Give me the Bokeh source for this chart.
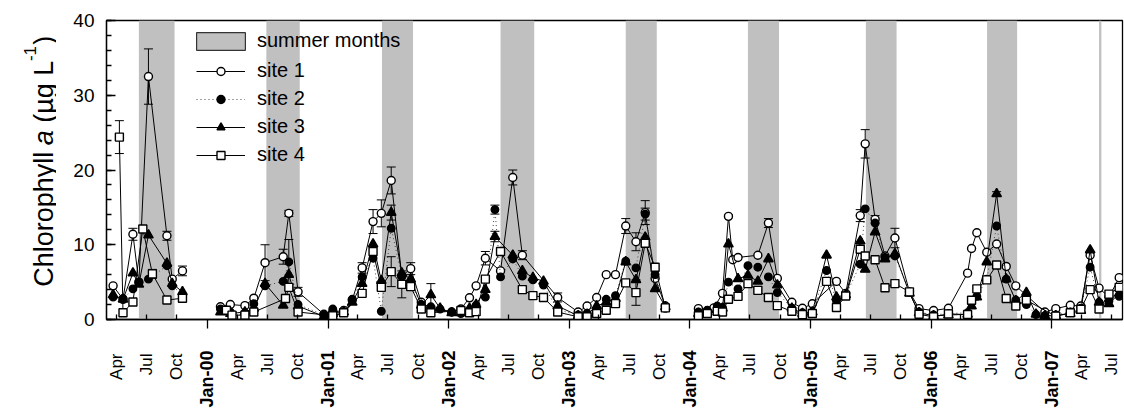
import math
from datetime import datetime
from bokeh.plotting import figure
from bokeh.layouts import row
from bokeh.models import (ColumnDataSource, Range1d, LinearAxis, FixedTicker,
                          Legend, LegendItem, Whisker, TeeHead, Label)
from bokeh.embed import file_html
from bokeh.resources import INLINE

FONT = "Liberation Sans"

# ---------------- data ----------------
dates = ["1999-03-22", "1999-04-10", "1999-04-21", "1999-05-21", "1999-06-08", "1999-06-20",
         "1999-07-07", "1999-07-19", "1999-09-01", "1999-09-17", "1999-10-18",
         "2000-02-10", "2000-02-28", "2000-03-11", "2000-03-16", "2000-04-24", "2000-05-21",
         "2000-06-24", "2000-08-18", "2000-08-25", "2000-09-04", "2000-10-02", "2000-12-19",
         "2001-01-15", "2001-02-17", "2001-03-15", "2001-04-14", "2001-05-17", "2001-06-11",
         "2001-07-11", "2001-08-12", "2001-09-08", "2001-10-10", "2001-11-08", "2001-12-06",
         "2002-01-10", "2002-02-07", "2002-03-05", "2002-03-25", "2002-04-22", "2002-05-21",
         "2002-06-07", "2002-07-14", "2002-08-12", "2002-09-13", "2002-10-15", "2002-11-27",
         "2003-01-28", "2003-02-24", "2003-03-25", "2003-04-23", "2003-05-21", "2003-06-21",
         "2003-07-22", "2003-08-19", "2003-09-18", "2003-10-19",
         "2004-01-27", "2004-02-23", "2004-03-14", "2004-03-24", "2004-04-09", "2004-04-27",
         "2004-05-10", "2004-05-26", "2004-06-25", "2004-07-25", "2004-08-26", "2004-09-22",
         "2004-11-05", "2004-12-07",
         "2005-01-06", "2005-02-18", "2005-03-20", "2005-04-17", "2005-05-31", "2005-06-15",
         "2005-07-15", "2005-08-14", "2005-09-13", "2005-10-27", "2005-11-25",
         "2006-01-08", "2006-02-22", "2006-04-21", "2006-05-03", "2006-05-19", "2006-06-18",
         "2006-07-18", "2006-08-16", "2006-09-14", "2006-10-16", "2006-11-14", "2006-12-11",
         "2007-01-13", "2007-02-26", "2007-03-30", "2007-04-27", "2007-05-24", "2007-06-23",
         "2007-07-24"]

site1 = [4.5, None, 2.7, 11.4, 5.0, None, 32.5, None, 11.2, 5.4, 6.5,
         1.7, None, 2.0, None, 1.85, 2.85, 7.6, 8.4, None, 14.2, 3.7, 0.7,
         1.0, 1.2, 2.6, 6.9, 13.1, 14.2, 18.6, 5.8, 6.8, 2.3, 1.5, None,
         1.0, 1.4, 2.9, 4.5, 8.2, None, 6.5, 19.0, 8.6, None, None, 2.95,
         1.0, 1.8, 2.95, 6.0, 6.0, 12.5, 10.4, 14.3, 5.5, 1.8,
         1.45, 1.2, 1.55, None, 3.5, 13.8, 8.0, 8.3, None, 8.6, 12.9, 5.5, 2.3, 1.5,
         2.1, None, 5.1, 3.5, 13.9, 23.5, 13.4, 8.5, 10.9, 3.7, 1.45,
         1.2, 1.5, 6.2, 9.5, 11.6, 9.0, 10.1, 7.1, 4.5, None, None, 1.0,
         1.45, 1.9, 1.8, 8.6, 4.2, 3.0, 5.6]

site2 = [3.0, None, 2.8, 4.1, 5.0, None, 5.4, None, 7.2, 4.5, 3.3,
         1.4, None, 1.0, None, 0.9, 2.1, 4.5, 5.1, None, 7.7, 2.0, 0.6,
         1.4, 1.0, 2.7, 5.7, 8.2, 1.1, 12.2, 5.8, 4.8, 2.0, 1.7, 1.4,
         1.0, 0.8, 1.2, 1.9, 3.0, 14.7, 5.7, 8.1, 5.8, 5.3, 4.6, 1.3,
         0.6, 0.8, 1.4, 2.7, 3.2, 7.8, 6.9, 14.1, 6.0, 1.5,
         1.0, 1.2, None, 1.8, 1.6, 5.0, None, 4.1, 7.2, 7.0, 5.7, 3.6, 1.5, 0.9,
         1.0, 6.55, 2.5, 3.2, 7.4, 14.8, 12.9, 8.3, 8.5, 3.7, 1.0,
         0.6, 0.8, 0.9, 2.3, 3.1, 5.4, 12.5, 5.4, 2.6, 2.0, 0.66, 0.5,
         0.6, 1.0, 1.5, 7.0, 2.3, 2.5, 3.1]

site3 = [3.3, None, 2.7, 6.2, 4.7, None, 11.3, None, 7.5, 4.8, 3.7,
         1.0, None, 0.8, None, 1.0, 1.5, 4.8, 1.9, None, 6.0, 1.8, 0.4,
         0.8, 1.0, 2.3, 4.8, 10.1, 5.2, 14.3, 6.2, 5.4, 1.9, 3.3, 1.5,
         0.9, 0.9, 1.5, 2.0, 4.0, 11.1, None, 8.6, 6.5, 5.6, 5.1, 1.8,
         0.5, 0.7, 1.8, 2.3, 2.8, 7.7, 5.3, 11.0, 4.1, 1.7,
         0.8, 1.0, None, 1.3, 1.5, 10.1, None, 5.45, 5.9, 5.1, 8.1, 4.6, 1.5, 0.8,
         1.0, 8.6, 3.0, 3.3, 10.5, 6.7, 11.7, 8.1, 8.8, 3.5, 0.9,
         0.5, 0.6, 0.7, 1.8, 3.0, 7.7, 16.8, 5.4, 2.5, 3.6, 0.7, 0.5,
         0.5, 0.8, 1.2, 9.3, 2.3, 2.1, 3.5]

site4 = [None, 24.4, 0.9, 2.35, None, 12.1, None, 6.1, 2.6, None, 2.85,
         None, 1.24, None, 0.58, 0.58, 1.0, None, None, 2.8, 4.3, 1.0, None,
         0.5, 0.9, None, 3.5, 9.1, 4.3, 6.4, 4.7, 4.4, 1.4, 0.9, None,
         None, 1.2, 0.9, 1.05, 5.4, None, 9.1, None, 4.0, 3.2, 2.95, 1.0,
         0.35, 0.35, 0.8, 1.24, 2.13, 4.9, 3.6, 10.2, 7.0, 1.55,
         0.5, 0.8, None, 1.1, 1.0, 2.7, None, 3.1, 4.8, 3.9, 2.95, 1.85, 1.1, 0.65,
         0.8, 5.1, 1.6, 3.15, 9.4, 8.5, 8.0, 4.25, 4.8, 3.7, 0.7,
         0.35, 0.75, 0.66, 2.57, 4.1, 5.3, 7.3, 2.8, 1.8, 2.57, None, None,
         0.45, 0.9, 1.37, 4.0, 1.4, 3.4, 4.3]

# sampling breaks (no line drawn across them)
gap_dates = ["1999-12-15", "2003-12-01"]

# error bars (date, +/- half width)
err1_dates = ["1999-05-21", "1999-07-07", "1999-09-01", "1999-10-18", "2000-06-24", "2000-08-18",
              "2000-09-04", "2000-10-02", "2001-04-14", "2001-05-17", "2001-06-11", "2001-07-11",
              "2001-09-08", "2002-04-22", "2002-07-14", "2002-08-12", "2002-11-27", "2003-06-21",
              "2003-07-22", "2003-08-19", "2004-04-27", "2004-08-26", "2005-05-31", "2005-06-15",
              "2005-07-15", "2005-09-13"]
err1_sd = [0.8, 3.7, 0.6, 0.65, 2.4, 1.0, 0.4, 0.6, 0.7, 1.6, 1.8, 1.8,
           0.8, 0.9, 1.0, 0.6, 0.6, 1.0, 1.2, 1.6, 0.2, 0.6, 0.8, 1.9, 0.5, 1.3]
err2_dates = ["2000-09-04", "2002-05-21", "2003-08-19"]
err2_sd = [3.0, 0.6, 0.8]
err3_dates = ["2001-07-11", "2001-11-08", "2002-05-21", "2006-07-18"]
err3_sd = [1.0, 1.5, 0.7, 0.3]
err4_dates = ["1999-04-10", "1999-07-19", "2001-07-11", "2001-08-12", "2003-07-22"]
err4_sd = [2.2, 0.6, 2.0, 1.8, 1.7]

# summer months shading
summer_start = ["1999-06-08", "2000-06-28", "2001-06-13", "2002-06-07", "2003-06-21",
                "2004-06-25", "2005-06-17", "2006-06-19", "2007-05-24"]
summer_end = ["1999-09-24", "2000-10-07", "2001-09-15", "2002-09-17", "2003-09-23",
              "2004-09-27", "2005-09-18", "2006-09-18", "2007-05-31"]

years = [2000, 2001, 2002, 2003, 2004, 2005, 2006, 2007]
jan_labels = ["Jan-00", "Jan-01", "Jan-02", "Jan-03", "Jan-04", "Jan-05", "Jan-06", "Jan-07"]
quarter_months = [4, 7, 10]
quarter_labels = ["Apr", "Jul", "Oct"]
x_start, x_end = "1999-03-02", "2007-08-03"
y_start, y_end = 0, 40
y_label = ["Chlorophyll", "a", "(\u00b5g L", "-1", ")"]

# ---------------- layout constants (pixels) ----------------
W, H = 1124, 410
TITLE_W = 56
FRAME_L, FRAME_T, FRAME_R, FRAME_B = 106, 20, 1122, 321
FRAME_H = FRAME_B - FRAME_T


def ms(s):
    return (datetime.strptime(s, "%Y-%m-%d") - datetime(1970, 1, 1)).total_seconds() * 1000.0


def series(vals):
    pts = [(ms(d), v) for d, v in zip(dates, vals) if v is not None]
    pts += [(ms(g), float("nan")) for g in gap_dates]
    pts.sort()
    return [p[0] for p in pts], [p[1] for p in pts]


X0, X1 = ms(x_start), ms(x_end)

p = figure(width=W - TITLE_W, height=H, output_backend="svg", toolbar_location=None,
           x_axis_type=None, x_range=Range1d(X0, X1),
           y_range=Range1d(y_start, y_end),
           min_border_left=FRAME_L - TITLE_W, min_border_right=W - FRAME_R,
           min_border_top=FRAME_T, min_border_bottom=H - FRAME_B)
p.outline_line_color = "black"
p.outline_line_width = 1.3
p.grid.visible = False

# summer bands
p.quad(left=[ms(d) for d in summer_start], right=[ms(d) for d in summer_end],
       bottom=y_start, top=y_end, fill_color="#c0c0c0", line_color=None, level="underlay")

# error bars
for ed, sd, vals in [(err1_dates, err1_sd, site1), (err2_dates, err2_sd, site2),
                     (err3_dates, err3_sd, site3), (err4_dates, err4_sd, site4)]:
    lookup = {d: v for d, v in zip(dates, vals)}
    src = ColumnDataSource(dict(x=[ms(d) for d in ed],
                                lo=[lookup[d] - s for d, s in zip(ed, sd)],
                                hi=[lookup[d] + s for d, s in zip(ed, sd)]))
    w = Whisker(source=src, base="x", lower="lo", upper="hi", dimension="height",
                line_color="black", line_width=1, level="underlay",
                upper_head=TeeHead(size=9, line_color="black", line_width=1),
                lower_head=TeeHead(size=9, line_color="black", line_width=1))
    p.add_layout(w)

items = []
styles = [
    ("site 1", site1, dict(line_dash="solid", line_color="black"), dict(marker="circle", size=8, fill_color="white")),
    ("site 2", site2, dict(line_dash="1 3", line_color="#444444"), dict(marker="circle", size=7.5, fill_color="black")),
    ("site 3", site3, dict(line_dash="solid", line_color="black"), dict(marker="triangle", size=9.5, fill_color="black")),
    ("site 4", site4, dict(line_dash="solid", line_color="black"), dict(marker="square", size=8, fill_color="white")),
]
for name, vals, lkw, mkw in styles:
    xs, ys = series(vals)
    src = ColumnDataSource(dict(x=xs, y=ys))
    lr = p.line("x", "y", source=src, line_width=1, **lkw)
    sr = p.scatter("x", "y", source=src, line_color="black", line_width=1.4, **mkw)
    items.append(LegendItem(label=name, renderers=[lr, sr]))

# legend proxy for the summer patch (outlined), placed outside the visible range
patch = p.quad(left=[X1 + 1e10], right=[X1 + 2e10], bottom=[0], top=[1], fill_color="#c0c0c0",
               line_color="#333333", line_width=1.2)
leg0 = Legend(items=[LegendItem(label="summer months", renderers=[patch])],
              location=(84, 267), glyph_width=61, glyph_height=22, label_height=22,
              label_standoff=6, padding=0, margin=0, spacing=0,
              border_line_color=None, background_fill_alpha=0,
              label_text_font=FONT, label_text_font_size="20px", label_text_color="black")
leg1 = Legend(items=items, location=(90, 153), glyph_width=49, glyph_height=20,
              label_height=23, label_standoff=12, padding=0, margin=0, spacing=5,
              border_line_color=None, background_fill_alpha=0,
              label_text_font=FONT, label_text_font_size="20px", label_text_color="black")
p.add_layout(leg0)
p.add_layout(leg1)

# y axis
p.yaxis.ticker = FixedTicker(ticks=list(range(0, 41, 10)), minor_ticks=list(range(0, 41, 2)))
p.yaxis.major_tick_in = 9
p.yaxis.major_tick_out = 0
p.yaxis.minor_tick_in = 5
p.yaxis.minor_tick_out = 0
p.yaxis.major_label_standoff = 12
p.yaxis.major_label_text_font = FONT
p.yaxis.major_label_text_font_size = "19px"
p.yaxis.major_label_text_color = "black"
p.yaxis.axis_line_width = 1.3
p.yaxis.major_tick_line_width = 1.3
p.yaxis.minor_tick_line_width = 1.3

# x axes: Jan (bold, outward ticks) and quarter labels
jan_ms = [ms(f"{y}-01-01") for y in years]
q_ms, q_lab = [], []
for y in range(1999, 2008):
    for m, lab in zip(quarter_months, quarter_labels):
        tq = ms(f"{y}-{m:02d}-01")
        if X0 <= tq <= X1:
            q_ms.append(tq)
            q_lab.append(lab)

ax_jan = LinearAxis(ticker=FixedTicker(ticks=jan_ms, minor_ticks=q_ms),
                    major_label_overrides={v: l for v, l in zip(jan_ms, jan_labels)},
                    major_tick_in=0, major_tick_out=9, minor_tick_in=5, minor_tick_out=0,
                    major_label_standoff=22, major_label_orientation=math.pi / 2,
                    major_label_text_font=FONT, major_label_text_font_size="18px",
                    major_label_text_font_style="bold", major_label_text_color="black",
                    axis_line_width=1.3, major_tick_line_width=1.3, minor_tick_line_width=1.3)
ax_q = LinearAxis(ticker=FixedTicker(ticks=q_ms, minor_ticks=[]),
                  major_label_overrides={v: l for v, l in zip(q_ms, q_lab)},
                  major_tick_in=0, major_tick_out=0, major_tick_line_color=None,
                  minor_tick_line_color=None, axis_line_color=None,
                  major_label_standoff=-57, major_label_orientation=math.pi / 2,
                  major_label_text_font=FONT, major_label_text_font_size="17px",
                  major_label_text_color="black")
p.add_layout(ax_jan, "below")
p.add_layout(ax_q, "below")

# ---------------- y-axis title panel (italic a, superscript -1) ----------------
# same vertical borders as the main plot so the frames line up; y in the main plot's units
t = figure(width=TITLE_W, height=H, output_backend="svg", toolbar_location=None,
           x_axis_type=None, y_axis_type=None, x_range=Range1d(0, TITLE_W),
           y_range=Range1d(y_start, y_end),
           min_border_left=0, min_border_right=0, min_border_top=FRAME_T,
           min_border_bottom=H - FRAME_B, outline_line_color=None)
t.grid.visible = False
unit_per_px = (y_end - y_start) / FRAME_H
baseline_x = 43.3
ypos_px = 33.0
sizes = [27, 27, 27, 17, 27]
# advance (in em) before and after each piece; spaces are explicit (SVG drops edge spaces)
pre_em = [0.0, 0.278, 0.278, 0.0, 0.05]
widths_em = [5.001, 0.556, 2.299, 0.889, 0.333]
for i, (txt, fs, pem, wem) in enumerate(zip(y_label, sizes, pre_em, widths_em)):
    ypos_px += pem * 27
    t.add_layout(Label(x=baseline_x - (14 if i == 3 else 0), y=y_start + ypos_px * unit_per_px,
                       text=txt, angle=math.pi / 2, text_font=FONT, text_font_size=f"{fs}px",
                       text_font_style="italic" if i == 1 else "normal",
                       text_align="left", text_baseline="alphabetic", text_color="black"))
    ypos_px += wem * fs

layout = row(t, p)
open("out.html", "w").write(file_html(layout, INLINE))
